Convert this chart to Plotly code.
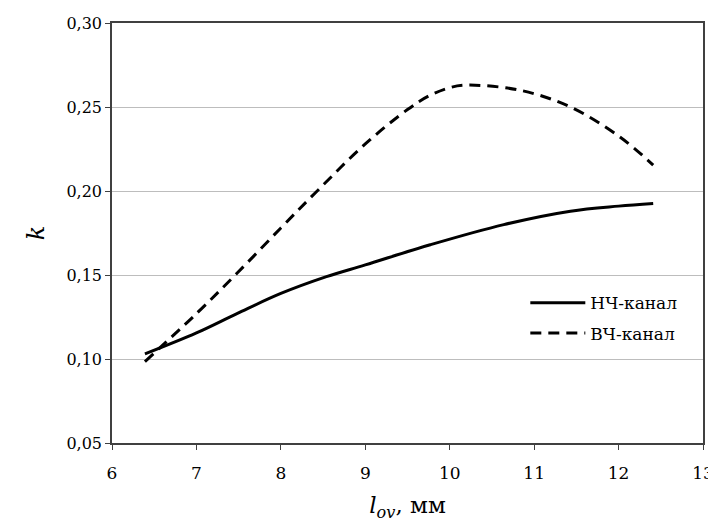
import plotly.graph_objects as go

# Data
lf_x = [6.39, 7.0, 7.48, 8.0, 8.54, 9.0, 9.77, 10.64, 11.43, 12.0, 12.41]
lf_y = [0.103, 0.1155, 0.127, 0.139, 0.149, 0.156, 0.168, 0.180, 0.188, 0.191, 0.1926]

hf_x = [6.39, 7.0, 7.48, 8.0, 8.43, 9.0, 9.5, 9.75, 10.0, 10.2, 10.83, 11.43, 12.02, 12.41]
hf_y = [0.0985, 0.127, 0.151, 0.178, 0.200, 0.228, 0.2485, 0.2565, 0.2615, 0.263, 0.260, 0.250, 0.232, 0.2154]

x_ticks = [6, 7, 8, 9, 10, 11, 12, 13]
y_ticks = [0.05, 0.10, 0.15, 0.20, 0.25, 0.30]

serif = "DejaVu Serif"

fig = go.Figure()
fig.add_trace(go.Scatter(
    x=lf_x, y=lf_y, mode="lines", name="НЧ-канал", legendgroup="lf",
    line=dict(color="black", width=3, shape="spline", smoothing=1.0)))
fig.add_trace(go.Scatter(
    x=hf_x, y=hf_y, mode="lines", name="ВЧ-канал", legendgroup="hf",
    line=dict(color="black", width=3, dash="11px,7px", shape="spline", smoothing=1.0)))

fig.update_layout(
    width=708, height=514,
    margin=dict(l=104, r=13, t=15, b=79, autoexpand=False),
    paper_bgcolor="white", plot_bgcolor="white",
    separators=", ",
    font=dict(family=serif, size=16, color="black"),
    showlegend=True,
    legend=dict(x=0.965, y=0.297, xanchor="right", yanchor="middle",
                bgcolor="rgba(0,0,0,0)", font=dict(family=serif, size=17),
                itemwidth=55, traceorder="grouped", tracegroupgap=5),
)
fig.update_xaxes(
    range=[6, 13], tickvals=x_ticks, ticktext=[str(v) for v in x_ticks],
    automargin=False,
    showgrid=False, zeroline=False,
    showline=True, linecolor="#404040", linewidth=1.5, mirror=True,
    ticks="outside", ticklen=5, tickcolor="#404040",
    ticklabelstandoff=9,
    tickfont=dict(family=serif, size=17),
    title=dict(text="<i>l</i><sub><i>ov</i></sub>, мм", font=dict(family=serif, size=23), standoff=20),
)
fig.update_yaxes(
    range=[0.05, 0.30], tickvals=y_ticks, tickformat=".2f",
    automargin=False,
    showgrid=True, gridcolor="#bdbdbd", gridwidth=1.2, zeroline=False,
    showline=True, linecolor="#404040", linewidth=1.5, mirror=True,
    ticks="outside", ticklen=5, tickcolor="#404040",
    tickfont=dict(family=serif, size=16),
    title=dict(text="<i>k</i>", font=dict(family=serif, size=24), standoff=15),
)

fig.write_html("out.html")
